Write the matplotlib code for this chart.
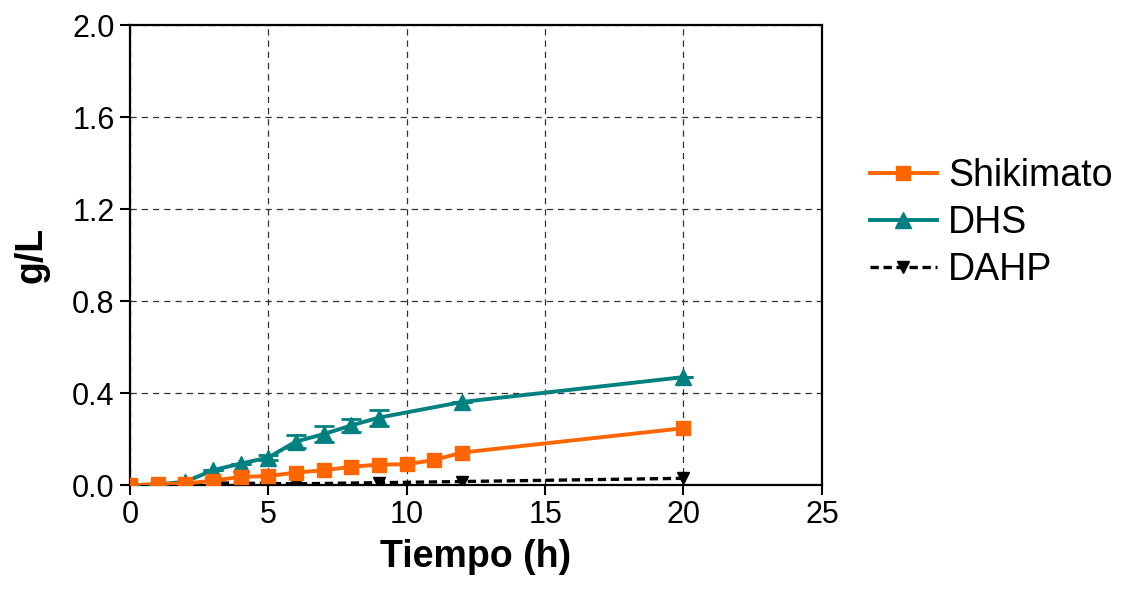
import matplotlib
matplotlib.use("Agg")
import matplotlib.pyplot as plt
from matplotlib.lines import Line2D

plt.rcParams["font.family"] = ["Liberation Sans", "DejaVu Sans"]

# Data
time_h = [0, 1, 2, 3, 4, 5, 6, 7, 8, 9, 10, 11, 12, 20]
shikimato = [0.0, 0.005, 0.007, 0.02, 0.036, 0.04, 0.055, 0.065, 0.08, 0.09, 0.091, 0.11, 0.142, 0.248]

dhs_time = [0, 1, 2, 3, 4, 5, 6, 7, 8, 9, 12, 20]
dhs = [0.0, 0.003, 0.015, 0.065, 0.094, 0.12, 0.19, 0.222, 0.26, 0.294, 0.362, 0.47]
dhs_err = [0, 0, 0, 0, 0, 0.01, 0.03, 0.034, 0.03, 0.035, 0, 0]

dahp_time = [0, 3, 6, 9, 12, 20]
dahp = [0.0, 0.01, 0.006, 0.011, 0.016, 0.03]

x_ticks = [0, 5, 10, 15, 20, 25]
y_ticks = [0.0, 0.4, 0.8, 1.2, 1.6, 2.0]

orange = "#FF6600"
teal = "#008080"

fig = plt.figure(figsize=(11.29, 6.02), dpi=100)
ax = fig.add_axes([0.115, 0.194, 0.613, 0.764])

ax.plot(dahp_time, dahp, color="black", lw=2.4, ls=(0, (2.5, 1.4)), marker="v", ms=8,
        zorder=2)
ax.errorbar(dhs_time, dhs, yerr=dhs_err, color=teal, lw=2.8, marker="^", ms=11,
            capsize=7, elinewidth=2, capthick=2, zorder=3)
ax.plot(time_h, shikimato, color=orange, lw=2.8, marker="s", ms=10, zorder=4)

ax.set_xlim(0, 25)
ax.set_ylim(0, 2.0)
ax.set_xticks(x_ticks)
ax.set_yticks(y_ticks)
ax.set_yticklabels([f"{v:.1f}" for v in y_ticks])
ax.tick_params(labelsize=22, width=1.5, length=7, direction="out", pad=4)

for sp in ax.spines.values():
    sp.set_linewidth(1.6)
ax.grid(True, ls=(0, (5, 4)), color="#333333", lw=0.9)
ax.set_axisbelow(True)

ax.set_xlabel("Tiempo (h)", fontsize=27, fontweight="bold", labelpad=6)
ax.set_ylabel("g/L", fontsize=27, fontweight="bold", labelpad=16)

handles = [
    Line2D([], [], color=orange, lw=2.8, marker="s", ms=10),
    Line2D([], [], color=teal, lw=2.8, marker="^", ms=11),
    Line2D([], [], color="black", lw=2.4, ls=(0, (2.5, 1.4)), marker="v", ms=8),
]
ax.legend(handles, ["Shikimato", "DHS", "DAHP"], loc="center left",
          bbox_to_anchor=(1.02, 0.57), frameon=False, fontsize=27,
          handlelength=1.8, handletextpad=0.3, labelspacing=0.3)

fig.savefig("out.png", dpi=100)
plt.close(fig)
